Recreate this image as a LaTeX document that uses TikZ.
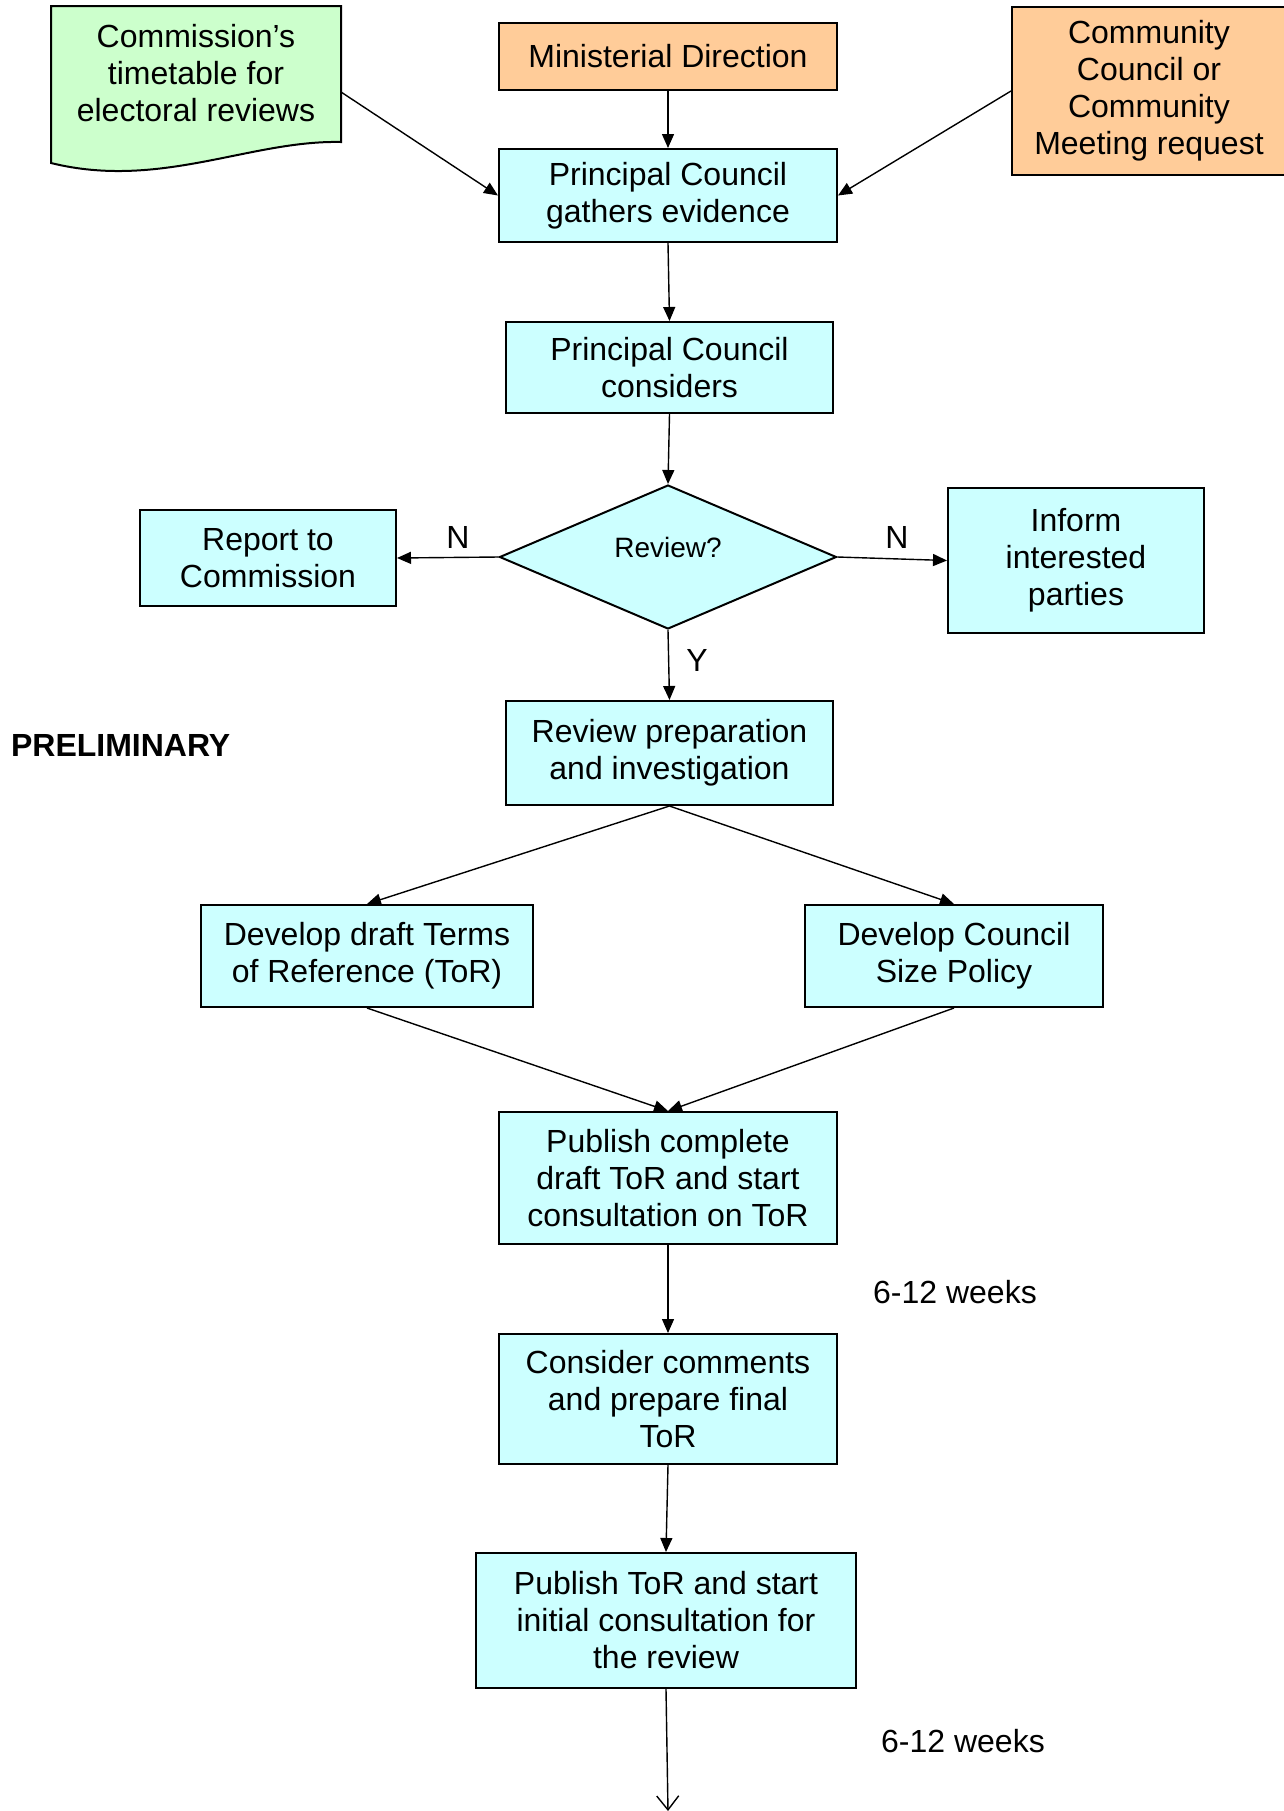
\documentclass[tikz,border=0pt]{standalone}
\usepackage{fontspec}
\setmainfont{Liberation Sans}
\usetikzlibrary{shapes.geometric,arrows.meta}
\definecolor{boxcyan}{HTML}{CCFFFF}
\definecolor{boxorange}{HTML}{FFCC99}
\definecolor{boxgreen}{HTML}{CCFFCC}

\begin{document}
\begin{tikzpicture}[x=0.5pt, y=-0.5pt,
    font=\fontsize{16pt}{18.5pt}\selectfont,
    procbox/.style={draw, line width=1pt, fill=boxcyan, align=center, inner sep=2pt},
    inbox/.style={draw, line width=1pt, fill=boxorange, align=center, inner sep=2pt},
    decide/.style={diamond, draw, line width=1pt, fill=boxcyan, inner sep=0pt, aspect=2.3},
    arr/.style={line width=0.7pt, -{Triangle[length=7pt, width=6pt]}},
    openarr/.style={line width=0.7pt, -{Straight Barb[length=7pt, width=11pt]}}]
    \useasboundingbox (0,0) rectangle (1284,1811);

    % Inputs at the top
    \draw[line width=1pt, fill=boxgreen] (51,6) -- (341,6) -- (341,142)
        .. controls (250,140) and (160,190) .. (51,163) -- cycle;
    \node (docu) at (196,73) [align=center] {Commission’s\\timetable for\\electoral reviews};
    \coordinate (docout) at (341,92);
    \node[inbox, minimum width=169pt, minimum height=33.5pt] (mindir) at (668,56.5) {Ministerial Direction};
    \node[inbox, minimum width=137pt, minimum height=84pt] (comm) at (1149,91) {Community\\Council or\\Community\\Meeting request};

    % Principal council
    \node[procbox, minimum width=169pt, minimum height=46.5pt] (gather) at (668,195.5) {Principal Council\\gathers evidence};
    \node[procbox, minimum width=163.5pt, minimum height=45.5pt] (consid) at (669.5,367.5) {Principal Council\\considers};

    % Decision
    \node[decide, minimum width=168.5pt, minimum height=72pt, text depth=10pt, font=\fontsize{14pt}{16pt}\selectfont] (rev) at (668,557) {Review?};
    \node[procbox, minimum width=128pt, minimum height=48pt] (report) at (268,558) {Report to\\Commission};
    \node[procbox, minimum width=128pt, minimum height=72.5pt] (inform) at (1076,560.5) {Inform\\interested\\parties};
    \node (nleft) at (458,537) {N};
    \node (nright) at (897,537) {N};
    \node (yes) at (697,660) {Y};

    % Preliminary stage
    \node[anchor=west, font=\fontsize{16pt}{18.5pt}\selectfont\bfseries] (prelim) at (4,745) {PRELIMINARY};
    \node[procbox, minimum width=163.5pt, minimum height=52pt] (prep) at (669.5,753) {Review preparation\\and investigation};
    \node[procbox, minimum width=166pt, minimum height=51pt] (draft) at (367,956) {Develop draft Terms\\of Reference (ToR)};
    \node[procbox, minimum width=149pt, minimum height=51pt] (size) at (954,956) {Develop Council\\Size Policy};
    \node[procbox, minimum width=169pt, minimum height=66pt] (pub) at (668,1178) {Publish complete\\draft ToR and start\\consultation on ToR};
    \node[procbox, minimum width=169pt, minimum height=65pt] (cons) at (668,1399) {Consider comments\\and prepare final\\ToR};
    \node[procbox, minimum width=190pt, minimum height=67.5pt] (pubtor) at (666,1620.5) {Publish ToR and start\\initial consultation for\\the review};
    \node (wk1) at (955,1292) {6-12 weeks};
    \node (wk2) at (963,1741) {6-12 weeks};
    \coordinate (next) at (668,1811);

    % Connectors
    \draw[arr] (docout) -- (gather.west);
    \draw[arr] (mindir) -- (gather);
    \draw[arr] (comm.west) -- (gather.east);
    \draw[arr] (gather.south) -- (consid.north);
    \draw[arr] (consid.south) -- (rev.north);
    \draw[arr] (rev.west) -- (report.east);
    \draw[arr] (rev.east) -- (inform.west);
    \draw[arr] (rev.south) -- (prep.north);
    \draw[arr] (prep.south) -- (draft.north);
    \draw[arr] (prep.south) -- (size.north);
    \draw[arr] (draft.south) -- (pub.north);
    \draw[arr] (size.south) -- (pub.north);
    \draw[arr] (pub) -- (cons);
    \draw[arr] (cons.south) -- (pubtor.north);
    \draw[openarr] (pubtor.south) -- (next);
\end{tikzpicture}
\end{document}
